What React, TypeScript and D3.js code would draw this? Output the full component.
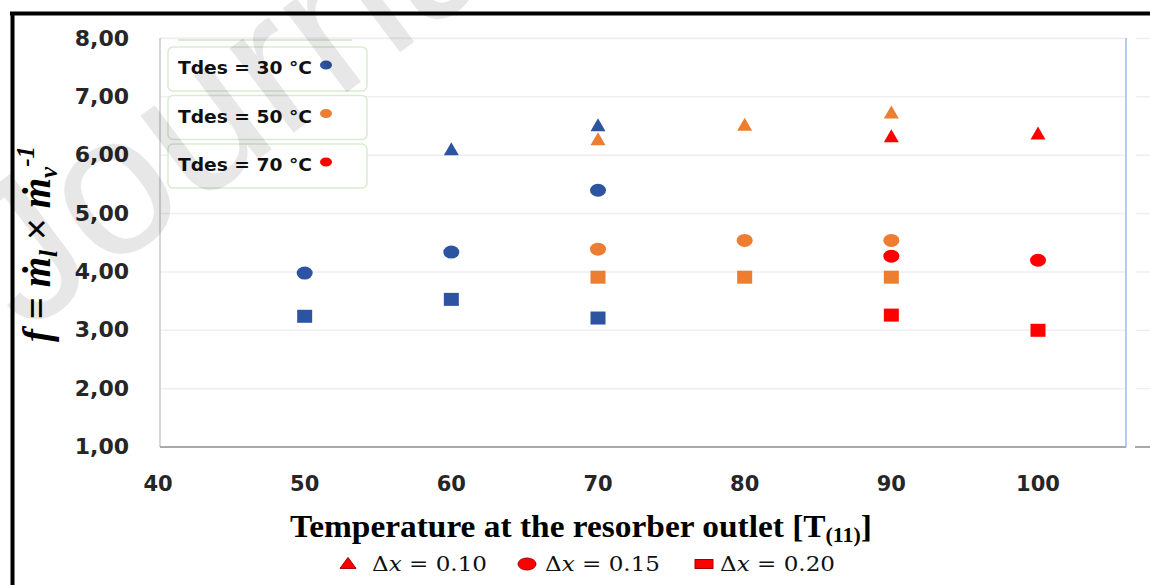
import React from "react";
import * as d3 from "d3";

// Resorber outlet temperature ticks and y ticks
const xTicks = [40, 50, 60, 70, 80, 90, 100];
const yTicks = [1, 2, 3, 4, 5, 6, 7, 8];

// Circulation ratio f, grouped by desorber temperature and concentration width
const t30_dx010: [number, number][] = [[60, 6.09], [70, 6.5]];
const t30_dx015: [number, number][] = [[50, 3.98], [60, 4.34], [70, 5.4]];
const t30_dx020: [number, number][] = [[50, 3.24], [60, 3.53], [70, 3.21]];

const t50_dx010: [number, number][] = [[70, 6.26], [80, 6.51], [90, 6.72]];
const t50_dx015: [number, number][] = [[70, 4.39], [80, 4.54], [90, 4.54]];
const t50_dx020: [number, number][] = [[70, 3.91], [80, 3.91], [90, 3.91]];

const t70_dx010: [number, number][] = [[90, 6.31], [100, 6.36]];
const t70_dx015: [number, number][] = [[90, 4.27], [100, 4.2]];
const t70_dx020: [number, number][] = [[90, 3.26], [100, 3.0]];

const tdesLabels = ["Tdes = 30 °C", "Tdes = 50 °C", "Tdes = 70 °C"];
const dxLabels = ["0.10", "0.15", "0.20"];

const BLUE = "#2D54A0";
const ORANGE = "#ED7D31";
const RED = "#FF0000";
const tdesColors = [BLUE, ORANGE, RED];

type Shape = "triangle" | "circle" | "square";

const series: { pts: [number, number][]; color: string; shape: Shape }[] = [
  { pts: t30_dx010, color: BLUE, shape: "triangle" },
  { pts: t30_dx015, color: BLUE, shape: "circle" },
  { pts: t30_dx020, color: BLUE, shape: "square" },
  { pts: t50_dx010, color: ORANGE, shape: "triangle" },
  { pts: t50_dx015, color: ORANGE, shape: "circle" },
  { pts: t50_dx020, color: ORANGE, shape: "square" },
  { pts: t70_dx010, color: RED, shape: "triangle" },
  { pts: t70_dx015, color: RED, shape: "circle" },
  { pts: t70_dx020, color: RED, shape: "square" },
];

const W = 1150;
const H = 585;
const plot = { left: 160, right: 1126, top: 38, bottom: 447 };

const x = d3.scaleLinear().domain([40, 100]).range([158, 1038]);
const y = d3.scaleLinear().domain([1, 8]).range([plot.bottom, 38.5]);

function Marker({ cx, cy, shape, color, w, h, stroke }: {
  cx: number; cy: number; shape: Shape; color: string; w: number; h: number; stroke?: string;
}) {
  if (shape === "triangle") {
    const p = d3.path();
    p.moveTo(cx, cy - h * 0.6);
    p.lineTo(cx + w / 2, cy + h * 0.4);
    p.lineTo(cx - w / 2, cy + h * 0.4);
    p.closePath();
    return <path d={p.toString()} fill={color} stroke={stroke ?? "none"} strokeWidth={1} />;
  }
  if (shape === "circle") {
    return <ellipse cx={cx} cy={cy} rx={w / 2} ry={h / 2} fill={color} stroke={stroke ?? "none"} strokeWidth={1} />;
  }
  return <rect x={cx - w / 2} y={cy - h / 2} width={w} height={h} fill={color} stroke={stroke ?? "none"} strokeWidth={1} />;
}

const markerSize: Record<Shape, [number, number]> = {
  triangle: [15, 13],
  circle: [16, 13],
  square: [15, 13],
};

export default function App() {
  const tickFont = "'DejaVu Sans', Verdana, sans-serif";
  const serif = "'Liberation Serif', 'Times New Roman', serif";
  return (
    <svg width={W} height={H} style={{ position: "absolute", left: 0, top: 0, background: "#fff" }}>
      <rect x={0} y={0} width={W} height={H} fill="#fff" />

      {/* outer frame */}
      <line x1={10} x2={W} y1={13.5} y2={13.5} stroke="#000" strokeWidth={4} />
      <line x1={12.5} x2={12.5} y1={12} y2={H} stroke="#000" strokeWidth={4} />

      {/* gridlines */}
      {yTicks.slice(1).map((t) => (
        <g key={"g" + t}>
          <line x1={plot.left} x2={plot.right} y1={y(t)} y2={y(t)} stroke="#efefef" strokeWidth={1.5} />
          <line x1={1136} x2={W} y1={y(t)} y2={y(t)} stroke="#efefef" strokeWidth={1.5} />
        </g>
      ))}
      <line x1={plot.left} x2={plot.right} y1={plot.top} y2={plot.top} stroke="#eef1f9" strokeWidth={1.5} />

      {/* plot frame */}
      <line x1={plot.left} x2={plot.left} y1={plot.top} y2={plot.bottom} stroke="#c8c8c8" strokeWidth={1.5} />
      <line x1={plot.right} x2={plot.right} y1={plot.top} y2={plot.bottom} stroke="#b8cbea" strokeWidth={2} />
      <line x1={plot.left} x2={plot.right} y1={plot.bottom} y2={plot.bottom} stroke="#a9a9a9" strokeWidth={2} />
      <line x1={1135} x2={W} y1={plot.bottom} y2={plot.bottom} stroke="#a9a9a9" strokeWidth={2} />

      {/* y tick labels */}
      {yTicks.map((t) => (
        <text key={"y" + t} x={129} y={y(t) + 7} textAnchor="end" fontFamily={tickFont} fontWeight="bold"
          fontSize={22} fill="#262626">
          {d3.format(".2f")(t).replace(".", ",")}
        </text>
      ))}

      {/* x tick labels */}
      {xTicks.map((t) => (
        <text key={"x" + t} x={x(t)} y={491} textAnchor="middle" fontFamily={tickFont} fontWeight="bold"
          fontSize={21} fill="#262626">
          {t}
        </text>
      ))}

      {/* data points */}
      {series.map((s, i) =>
        s.pts.map(([tx, f], j) => (
          <Marker key={`${i}-${j}`} cx={x(tx)} cy={y(f)} shape={s.shape} color={s.color}
            w={markerSize[s.shape][0]} h={markerSize[s.shape][1]} />
        ))
      )}

      {/* desorber temperature legend */}
      <line x1={178} x2={352} y1={40} y2={40} stroke="#dcecd4" strokeWidth={2} />
      {tdesLabels.map((lab, i) => {
        const top = 47 + i * 48.5;
        return (
          <g key={lab}>
            <rect x={168} y={top} width={199} height={44} rx={5} fill="#fff" stroke="#d9ebd1" strokeWidth={1.5} />
            <text x={178} y={top + 27} fontFamily={tickFont} fontWeight="bold" fontSize={18} fill="#111"
              textLength={134} lengthAdjust="spacingAndGlyphs">
              {lab}
            </text>
            <ellipse cx={326} cy={top + 18} rx={6} ry={4.5} fill={tdesColors[i]} />
          </g>
        );
      })}

      {/* y axis title */}
      <text transform="translate(50,244) rotate(-90)" textAnchor="middle" fontFamily={serif}
        fontWeight="bold" fontStyle="italic" fontSize={39} fill="#000">
        <tspan>f</tspan>
        <tspan fontStyle="normal"> = </tspan>
        <tspan>ṁ</tspan>
        <tspan fontSize={25} dy={7}>l</tspan>
        <tspan fontStyle="normal" dy={-7}> × </tspan>
        <tspan>ṁ</tspan>
        <tspan fontSize={25} dy={7}>v</tspan>
        <tspan fontSize={25} dy={-23}>-1</tspan>
      </text>

      {/* x axis title */}
      <text x={581} y={537} textAnchor="middle" fontFamily={serif} fontWeight="bold" fontSize={32} fill="#000"
        textLength={582} lengthAdjust="spacingAndGlyphs">
        <tspan>Temperature at the resorber outlet [T</tspan>
        <tspan fontSize={21} dy={5}>(11)</tspan>
        <tspan dy={-5}>]</tspan>
      </text>

      {/* concentration width legend */}
      {(["triangle", "circle", "square"] as Shape[]).map((shape, i) => {
        const mx = [348, 527, 704][i];
        const tx = [372, 545, 720][i];
        const size: [number, number] = shape === "triangle" ? [16, 11] : shape === "circle" ? [18, 12] : [18, 9];
        return (
          <g key={shape}>
            <Marker cx={mx} cy={564} shape={shape} color={RED} w={size[0]} h={size[1]} stroke="#a00000" />
            <text x={tx} y={571} fontFamily="'DejaVu Serif', serif" fontSize={20} fill="#111"
              textLength={115} lengthAdjust="spacingAndGlyphs">
              <tspan>Δ</tspan>
              <tspan fontStyle="italic">x</tspan>
              <tspan> = {dxLabels[i]}</tspan>
            </text>
          </g>
        );
      })}

      {/* diagonal watermark */}
      <text transform="translate(25,335) rotate(-37)" fontFamily="'Liberation Sans', Arial, sans-serif"
        fontSize={200} fill="#000" opacity={0.09}>
        Journal
      </text>
    </svg>
  );
}
